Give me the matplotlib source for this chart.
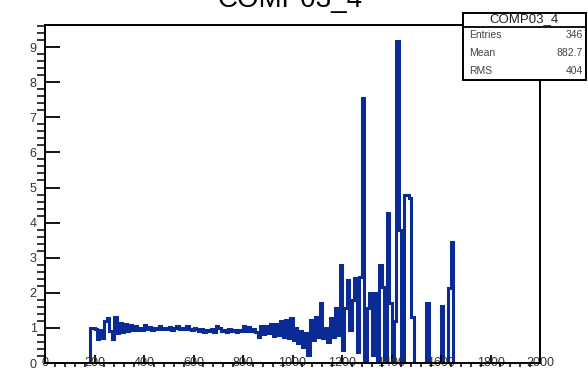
import numpy as np
import matplotlib
matplotlib.use("Agg")
import matplotlib.pyplot as plt
from matplotlib.patches import Rectangle
from matplotlib.ticker import MultipleLocator

plt.rcParams['font.family'] = ['Liberation Sans', 'DejaVu Sans']

# histogram COMP03_4 : bins of width 10 starting at 180
bin_start = 180
bin_width = 10
counts = [
    1.0, 1.0, 0.98, 0.68, 0.95, 0.7, 1.2, 1.28, 0.9, 0.68,
    1.32, 0.85, 1.14, 0.88, 1.1, 0.92, 1.08, 0.95, 1.05, 0.93,
    1.0, 0.95, 1.08, 0.98, 1.02, 0.95, 1.0, 0.97, 1.05, 0.96,
    1.0, 0.97, 1.03, 0.95, 1.0, 1.06, 0.96, 1.0, 0.97, 1.05,
    0.98, 0.95, 1.0, 0.97, 0.9, 0.97, 0.88, 0.95, 0.9, 0.96,
    0.89, 1.05, 1.0, 0.9, 0.95, 0.88, 0.96, 0.9, 0.95, 0.87,
    0.94, 0.9, 1.06, 0.9, 1.02, 0.9, 0.96, 0.88, 0.75, 1.05,
    0.82, 1.06, 0.85, 1.1, 0.78, 1.12, 0.8, 1.2, 0.75, 1.22,
    0.7, 1.28, 0.66, 1.0, 0.57, 0.9, 0.46, 0.85, 0.23, 1.22,
    0.66, 1.32, 0.75, 1.71, 0.71, 1.0, 0.61, 1.28, 0.75, 1.56,
    0.8, 2.79, 0.37, 1.56, 2.36, 0.94, 1.8, 2.42, 0.32, 2.46,
    7.55, 0.0, 1.56, 2.0, 0.23, 2.0, 0.0, 2.79, 2.17, 0.0,
    4.27, 1.71, 0.0, 1.2, 9.17, 3.79, 0.0, 4.78, 4.78, 4.7,
    1.32, 0.0, 0.0, 0.0, 0.0, 0.0, 1.71, 0.0, 0.0, 0.0,
    0.0, 0.0, 1.62, 0.0, 0.0, 2.13, 3.46, 0.0,
]
x_ticks = [0, 200, 400, 600, 800, 1000, 1200, 1400, 1600, 1800, 2000]
y_ticks = [0, 1, 2, 3, 4, 5, 6, 7, 8, 9]

hist_name = "COMP03_4"
stat_names = ["Entries", "Mean", "RMS"]
stat_values = ["346", "882.7", "404"]

edges = bin_start + bin_width * np.arange(len(counts) + 1)

W, H = 588, 375
fig = plt.figure(figsize=(W / 100, H / 100), dpi=100)
ax = fig.add_axes([45 / W, 12 / H, 495 / W, 338 / H])

ax.stairs(counts, edges, baseline=0, color="#0a2b96", lw=2.2)

ax.set_xlim(0, 2000)
ax.set_ylim(0, 9.63)
ax.set_xticks(x_ticks)
ax.set_yticks(y_ticks)
ax.xaxis.set_minor_locator(MultipleLocator(40))
ax.yaxis.set_minor_locator(MultipleLocator(0.2))

for s in ax.spines.values():
    s.set_linewidth(1.4)
ax.tick_params(direction="in", top=False, right=False, colors="black",
               labelcolor="#333333", labelsize=9)
ax.tick_params(axis="y", which="major", length=11, width=1.3, pad=6)
ax.tick_params(axis="y", which="minor", length=5.5, width=1.1)
ax.tick_params(axis="x", which="major", length=6, width=1.3, pad=-4)
ax.tick_params(axis="x", which="minor", length=3, width=1.1)

fig.text(0.493, 1 - 7 / H, hist_name, ha="center", va="baseline",
         fontsize=20)

# stats box
bx0, bx1, by0, by1 = 463, 586, 12.5, 80
fig.patches.append(Rectangle((bx0 / W, 1 - by1 / H), (bx1 - bx0) / W,
                             (by1 - by0) / H, transform=fig.transFigure,
                             facecolor="white", edgecolor="black", lw=1.4,
                             zorder=10))
fig.lines.append(plt.Line2D([bx0 / W, bx1 / W], [1 - 27 / H, 1 - 27 / H],
                            transform=fig.transFigure, color="black",
                            lw=1.3, zorder=11))
fig.text((bx0 + bx1) / 2 / W, 1 - 19.5 / H, hist_name, ha="center",
         va="center", fontsize=9.5, color="#222222", zorder=12)
for i, (n, v) in enumerate(zip(stat_names, stat_values)):
    yy = 1 - (35.5 + 17.5 * i) / H
    fig.text(469 / W, yy, n, ha="left", va="center", fontsize=7.5,
             color="#444444", zorder=12)
    fig.text(583 / W, yy, v, ha="right", va="center", fontsize=7.5,
             color="#444444", zorder=12)

fig.savefig("out.png", dpi=100)
